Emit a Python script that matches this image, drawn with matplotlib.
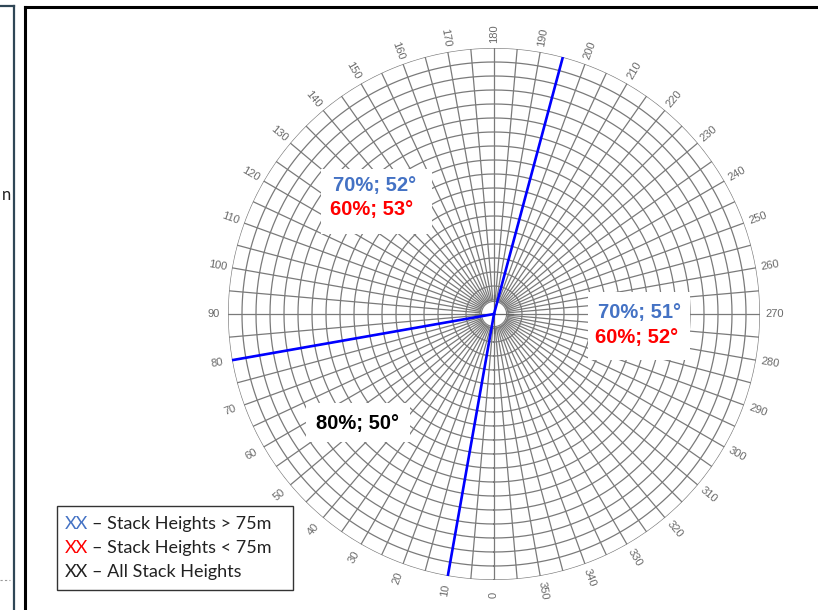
import numpy as np
import matplotlib.pyplot as plt
from matplotlib.patches import Rectangle
from matplotlib.lines import Line2D

W, H = 818, 610

# polar graph paper
ring_radii = np.arange(1, 20)          # 19 rings, outer one at r=19
spoke_deg = np.arange(0, 360, 5)
label_deg = np.arange(0, 360, 10)
hub_r = 0.9

# bearings of the blue lines
line_deg = [10, 80, 195]

# annotations: text, colour, centre in pixels
note_text = ["70%; 52°", "60%; 53°", "70%; 51°", "60%; 52°", "80%; 50°"]
note_color = ["#4472C4", "#FF0000", "#4472C4", "#FF0000", "#000000"]
note_xy = [(375, 185), (372, 210), (640, 313), (637, 337), (357, 423)]

# white boxes behind the annotations (x0, y0, x1, y1 in pixels)
mask_boxes = [(321, 169, 432, 234), (588, 292, 690, 360), (306, 403, 410, 442)]

legend_key = ["XX", "XX", "XX"]
legend_key_color = ["#4472C4", "#FF0000", "#222222"]
legend_text = ["– Stack Heights > 75m", "– Stack Heights < 75m", "– All Stack Heights"]


def fx(x):
    return x / W


def fy(y):
    return 1 - y / H


fig = plt.figure(figsize=(W / 100, H / 100), dpi=100)

# polar axes centred at (494, 314) px with radius 266 px
cx, cy, R = 494, 314, 266
ax = fig.add_axes([fx(cx - R), fy(cy + R), 2 * R / W, 2 * R / H], projection="polar")
ax.set_theta_zero_location("S")
ax.set_theta_direction(-1)
ax.set_ylim(0, ring_radii[-1])
ax.grid(False)
ax.set_xticks([])
ax.set_yticks([])
ax.spines["polar"].set_visible(False)
ax.patch.set_alpha(0)

grid_kw = dict(color="#7a7a7a", lw=0.9, zorder=1)
full = np.linspace(0, 2 * np.pi, 721)
for r in ring_radii:
    ax.plot(full, np.full_like(full, r), **grid_kw)

for d in spoke_deg:
    t = np.deg2rad(d)
    r0 = hub_r if d % 10 == 0 else 1
    ax.plot([t, t], [r0, ring_radii[-1]], **grid_kw)

# white hub with a small cross
ax.fill(full, np.full_like(full, hub_r), color="white", zorder=2)
ax.plot(full, np.full_like(full, hub_r), color="#7a7a7a", lw=0.8, zorder=3)
for d in [0, 90, 180, 270]:
    t = np.deg2rad(d)
    ax.plot([t, t], [0, 1.35], color="#666666", lw=0.9, zorder=3)

for d in line_deg:
    t = np.deg2rad(d)
    ax.plot([t, t], [0, ring_radii[-1]], color="#0000FF", lw=1.9, zorder=4)

# bearing labels, oriented along the radius
for d in label_deg:
    s = -90 - d
    rot = ((s + 90) % 180) - 90
    if rot == -90:
        rot = 90
    ax.text(np.deg2rad(d), 20.05, str(d), rotation=rot, rotation_mode="anchor",
            ha="center", va="center", fontsize=8, color="#6a6a6a",
            family="Liberation Sans", clip_on=False)

# masks and annotations
for x0, y0, x1, y1 in mask_boxes:
    fig.patches.append(Rectangle((fx(x0), fy(y1)), (x1 - x0) / W, (y1 - y0) / H,
                                 transform=fig.transFigure, facecolor="white",
                                 edgecolor="none", zorder=1))

for txt, col, (x, y) in zip(note_text, note_color, note_xy):
    fig.text(fx(x), fy(y), txt, color=col, fontsize=14.5, fontweight="bold",
             family="Liberation Sans", ha="center", va="center", zorder=5)

# legend box
fig.patches.append(Rectangle((fx(57), fy(590)), (293 - 57) / W, (590 - 506) / H,
                             transform=fig.transFigure, facecolor="white",
                             edgecolor="#333333", lw=1.0, zorder=1))
for i, (k, kc, lt) in enumerate(zip(legend_key, legend_key_color, legend_text)):
    y = 524 + 24 * i
    fig.text(fx(65), fy(y), k, color=kc, fontsize=13, family="Lato",
             ha="left", va="center", zorder=5)
    fig.text(fx(92), fy(y), lt, color="#222222", fontsize=13, family="Lato",
             ha="left", va="center", zorder=5)

# frame of the panel and the edge of the neighbouring one
fig.lines.append(Line2D([fx(25), fx(25)], [fy(7), fy(615)], transform=fig.transFigure,
                        color="black", lw=2.2))
fig.lines.append(Line2D([fx(25), fx(830)], [fy(7), fy(7)], transform=fig.transFigure,
                        color="black", lw=2.2))
fig.lines.append(Line2D([fx(14), fx(14)], [fy(6), fy(615)], transform=fig.transFigure,
                        color="#2f4656", lw=1.6))
fig.lines.append(Line2D([fx(0), fx(14)], [fy(6), fy(6)], transform=fig.transFigure,
                        color="#2f4656", lw=1.6))
fig.lines.append(Line2D([fx(0), fx(10)], [fy(580), fy(580)], transform=fig.transFigure,
                        color="#999999", lw=0.8, ls=(0, (2, 2))))
fig.text(fx(11), fy(195), "n", fontsize=12, family="Lato", ha="right", va="center",
         color="#222222")

fig.savefig("out.png", dpi=100)
